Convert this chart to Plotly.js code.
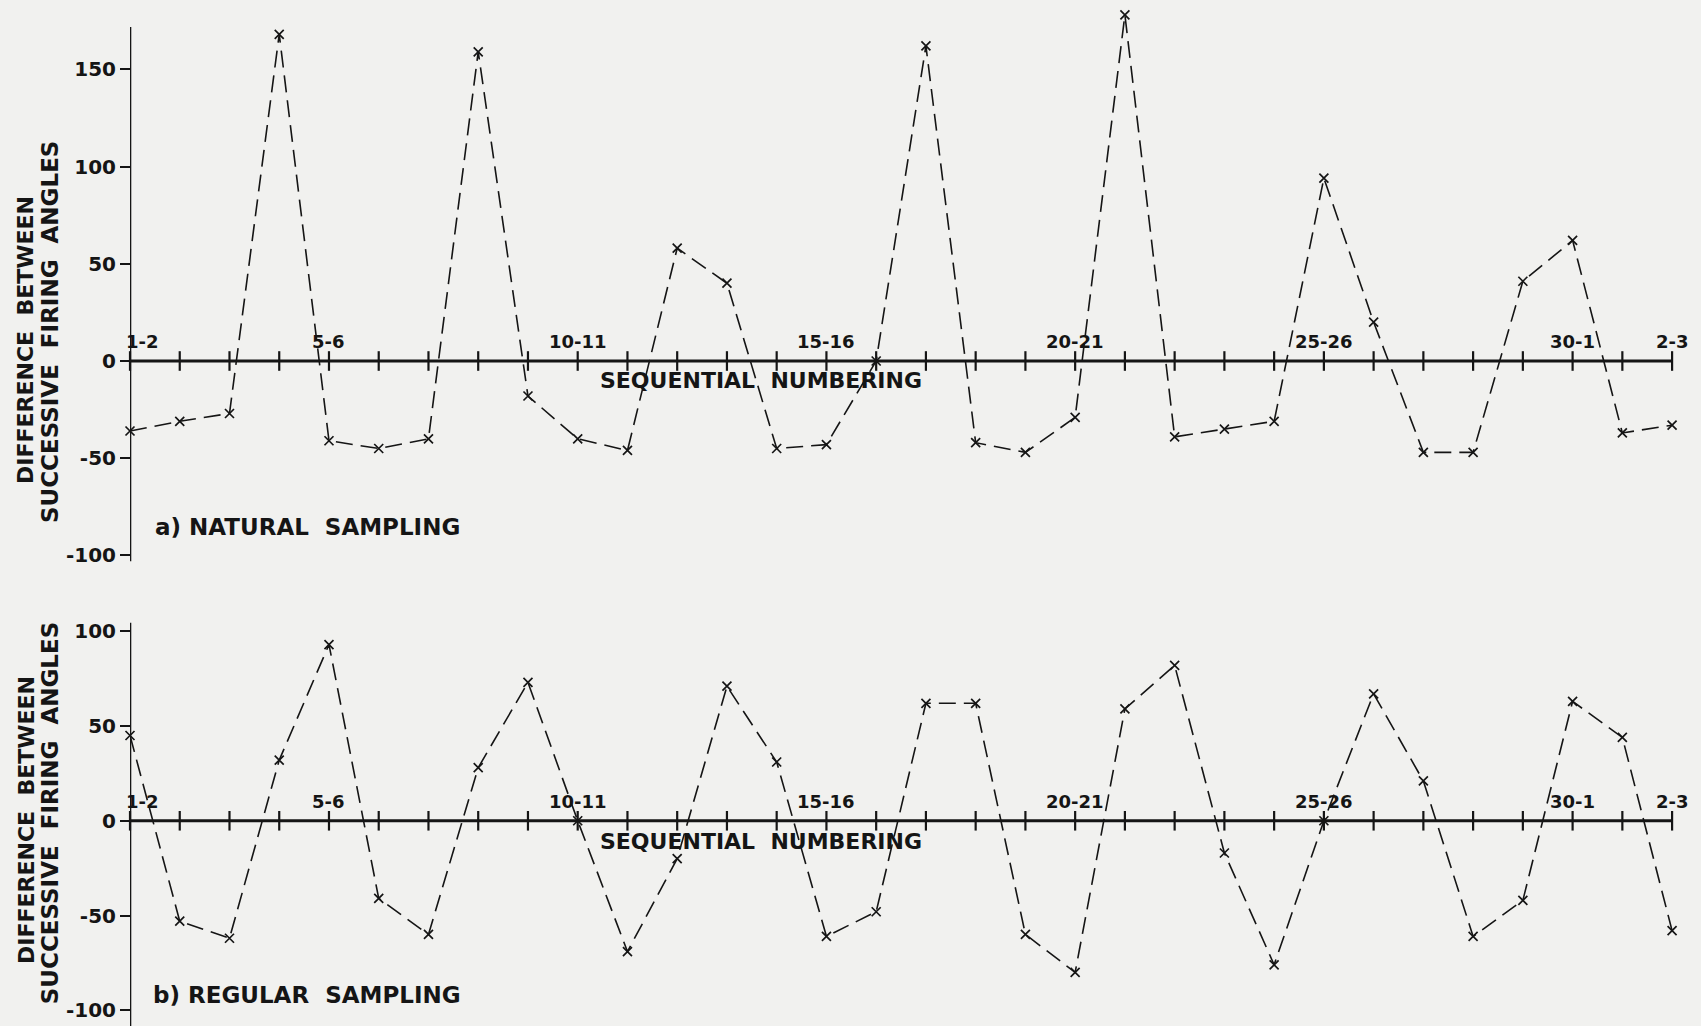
<!DOCTYPE html>
<html>
<head>
<meta charset="utf-8">
<script src="https://cdn.plot.ly/plotly-3.0.1.min.js"></script>
<style>html,body{margin:0;padding:0;background:#f1f1ef;}#chart{width:1701px;height:1026px;}</style>
</head>
<body>
<div id="chart"></div>
<script>
// ---- data ----
const pairLabels = ['1-2','5-6','10-11','15-16','20-21','25-26','30-1','2-3'];
const pairLabelIndex = [0, 4, 9, 14, 19, 24, 29, 31];
const naturalSampling = [-36, -31, -27, 168, -41, -45, -40, 159, -18, -40, -46, 58, 40, -45, -43, 0,
                         162, -42, -47, -29, 178, -39, -35, -31, 94, 20, -47, -47, 41, 62, -37, -33];
const regularSampling = [45, -53, -62, 32, 93, -41, -60, 28, 73, 0, -69, -20, 71, 31, -61, -48,
                         62, 62, -60, -80, 59, 82, -17, -76, 0, 67, 21, -61, -42, 63, 44, -58];
const yTicksTop = [-100, -50, 0, 50, 100, 150];
const yTickTextTop = ['-100', '-50', '0', '50', '100', '150'];
const yTicksBottom = [-100, -50, 0, 50, 100];
const yTickTextBottom = ['-100', '-50', '0', '50', '100'];

const ink = '#151515';
const FONT = 'DejaVu Sans';
const seq = naturalSampling.map((_, i) => i);
const zeros = seq.map(() => 0);

function dataTrace(y, xa, ya) {
  return {
    x: seq, y: y, xaxis: xa, yaxis: ya, type: 'scatter', mode: 'lines+markers',
    line: {color: ink, width: 1.6, dash: '17px,8px'},
    marker: {symbol: 'x-thin', size: 9, line: {color: ink, width: 1.7}},
    cliponaxis: false, hoverinfo: 'skip', showlegend: false
  };
}
function tickTrace(xa, ya) {
  return {
    x: seq, y: zeros, xaxis: xa, yaxis: ya, type: 'scatter', mode: 'markers',
    marker: {symbol: 'line-ns', size: 14, line: {color: ink, width: 2.2}},
    cliponaxis: false, hoverinfo: 'skip', showlegend: false
  };
}

const traces = [
  tickTrace('x', 'y'), dataTrace(naturalSampling, 'x', 'y'),
  tickTrace('x2', 'y2'), dataTrace(regularSampling, 'x2', 'y2')
];

const xdom = [130/1701, 1690/1701];
const xr = [0, 31.36];
function xax(anchor) {
  return {domain: xdom, range: xr, anchor: anchor, showgrid: false, zeroline: false,
          showticklabels: false, ticks: '', showline: false, fixedrange: true};
}
function yax(dom, rng, tv, tt) {
  return {domain: dom, range: rng, anchor: 'free', position: xdom[0], showgrid: false, zeroline: false,
          showline: false, tickmode: 'array', tickvals: tv, ticktext: tt, ticks: 'outside', ticklen: 10,
          tickwidth: 2, tickcolor: ink, tickfont: {family: FONT, size: 20, color: ink, weight: 'bold'},
          fixedrange: true};
}

const annotations = [];
function addPanelText(xr_, yr_, title, seqY, titleY, yl1, yl2, labelX) {
  pairLabelIndex.forEach((idx, k) => {
    annotations.push({x: idx, y: 0, xref: xr_, yref: yr_, text: pairLabels[k], showarrow: false,
      xanchor: 'center', yanchor: 'bottom', yshift: 7, xshift: idx === 0 ? 12 : 0,
      font: {family: FONT, size: 18, color: ink, weight: 'bold'}});
  });
  annotations.push({x: 12.69, y: seqY, xref: xr_, yref: yr_, showarrow: false,
    text: 'SEQUENTIAL\u00a0\u00a0NUMBERING', xanchor: 'center', yanchor: 'middle',
    font: {family: FONT, size: 22, color: ink, weight: 'bold'}});
  annotations.push({x: labelX, y: titleY, xref: xr_, yref: yr_, showarrow: false,
    text: title, xanchor: 'left', yanchor: 'middle', font: {family: FONT, size: 23, color: ink, weight: 'bold'}});
  annotations.push({x: 26/1701, y: yl1, xref: 'paper', yref: yr_, showarrow: false, textangle: -90,
    text: 'DIFFERENCE\u00a0\u00a0BETWEEN', xanchor: 'center', yanchor: 'middle',
    font: {family: FONT, size: 22, color: ink, weight: 'bold'}});
  annotations.push({x: 50/1701, y: yl2, xref: 'paper', yref: yr_, showarrow: false, textangle: -90,
    text: 'SUCCESSIVE\u00a0\u00a0FIRING\u00a0\u00a0ANGLES', xanchor: 'center', yanchor: 'middle',
    font: {family: FONT, size: 23, color: ink, weight: 'bold'}});
}
addPanelText('x', 'y', 'a)\u00a0NATURAL\u00a0\u00a0SAMPLING', -9.8, -85.3, 10.8, 14.9, 0.46);
addPanelText('x2', 'y2', 'b)\u00a0REGULAR\u00a0\u00a0SAMPLING', -10.7, -92, 0.4, 4, 0.42);

const shapes = [
  {type: 'line', xref: 'x', yref: 'y', x0: 0, x1: 0, y0: -103, y1: 171.7, line: {color: ink, width: 2.6}},
  {type: 'line', xref: 'x', yref: 'y', x0: 0, x1: 31, y0: 0, y1: 0, line: {color: ink, width: 3.2}},
  {type: 'line', xref: 'x2', yref: 'y2', x0: 0, x1: 0, y0: -110, y1: 104.5, line: {color: ink, width: 2.6}},
  {type: 'line', xref: 'x2', yref: 'y2', x0: 0, x1: 31, y0: 0, y1: 0, line: {color: ink, width: 3.2}}
];

const layout = {
  width: 1701, height: 1026,
  margin: {l: 0, r: 0, t: 0, b: 0, pad: 0},
  paper_bgcolor: '#f1f1ef', plot_bgcolor: 'rgba(0,0,0,0)',
  showlegend: false,
  xaxis: xax('y'), xaxis2: xax('y2'),
  yaxis: yax([1 - 565/1026, 1 - 2/1026], [-104.9, 184.6], yTicksTop, yTickTextTop),
  yaxis2: yax([0, 1 - 600/1026], [-108.3, 116.5], yTicksBottom, yTickTextBottom),
  shapes: shapes, annotations: annotations
};

Plotly.newPlot('chart', traces, layout, {displayModeBar: false, staticPlot: true});
</script>
</body>
</html>
